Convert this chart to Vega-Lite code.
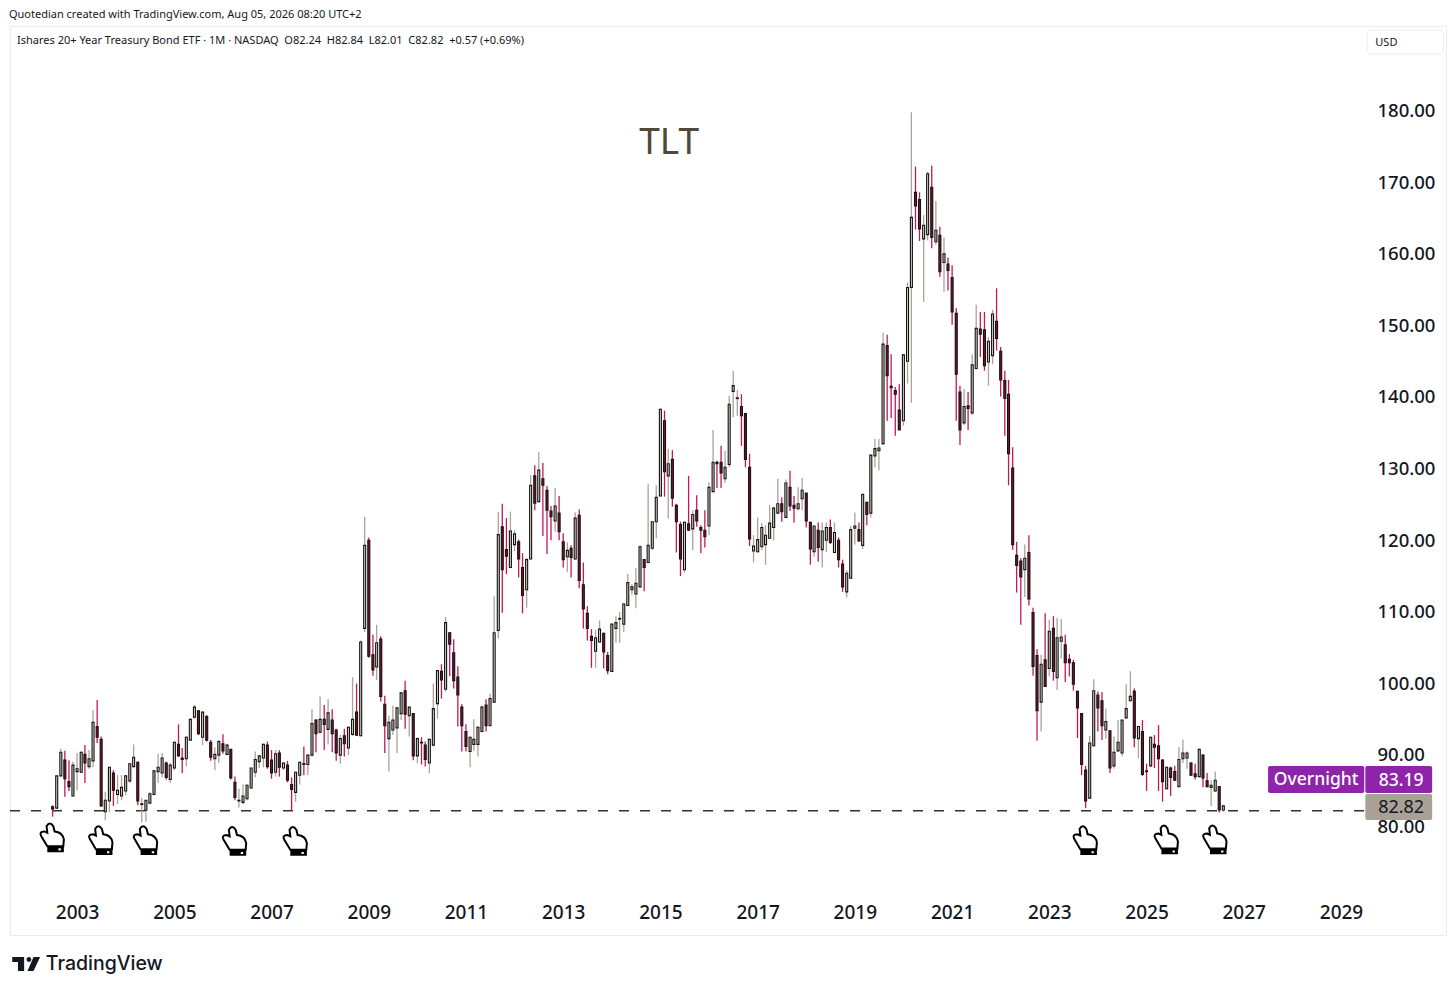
{
  "$schema": "https://vega.github.io/schema/vega-lite/v6.json",
  "background": "white",
  "autosize": {"type": "none"},
  "padding": {"left": 10, "top": 26, "right": 10, "bottom": 57},
  "width": 1436,
  "height": 909,
  "view": {"stroke": "#ececec"},
  "config": {"font": "Noto Sans"},
  "datasets": {
    "candles": [
      {"month":"2002-07-01","open":82.7,"high":82.9,"low":81.3,"close":82.4},
      {"month":"2002-08-01","open":82.5,"high":87.03,"low":82.4,"close":87.0},
      {"month":"2002-09-01","open":87.0,"high":90.8,"low":86.9,"close":90.3},
      {"month":"2002-10-01","open":89.2,"high":90.5,"low":84.1,"close":86.6},
      {"month":"2002-11-01","open":86.2,"high":89.2,"low":84.9,"close":85.5},
      {"month":"2002-12-01","open":84.2,"high":89.0,"low":84.1,"close":88.5},
      {"month":"2003-01-01","open":87.6,"high":90.2,"low":85.0,"close":88.0},
      {"month":"2003-02-01","open":87.5,"high":90.4,"low":87.4,"close":90.3},
      {"month":"2003-03-01","open":90.0,"high":91.3,"low":86.0,"close":88.8},
      {"month":"2003-04-01","open":88.3,"high":90.6,"low":88.0,"close":89.4},
      {"month":"2003-05-01","open":89.1,"high":96.2,"low":88.2,"close":94.5},
      {"month":"2003-06-01","open":93.9,"high":97.6,"low":91.6,"close":92.4},
      {"month":"2003-07-01","open":92.1,"high":92.5,"low":82.7,"close":82.8},
      {"month":"2003-08-01","open":82.0,"high":84.8,"low":80.8,"close":83.6},
      {"month":"2003-09-01","open":83.5,"high":88.2,"low":81.9,"close":88.2},
      {"month":"2003-10-01","open":87.4,"high":87.8,"low":82.8,"close":85.0},
      {"month":"2003-11-01","open":84.4,"high":87.1,"low":83.1,"close":85.0},
      {"month":"2003-12-01","open":84.2,"high":87.1,"low":83.6,"close":85.4},
      {"month":"2004-01-01","open":84.9,"high":87.1,"low":84.3,"close":87.0},
      {"month":"2004-02-01","open":86.3,"high":88.8,"low":86.0,"close":88.7},
      {"month":"2004-03-01","open":88.3,"high":91.4,"low":88.2,"close":89.6},
      {"month":"2004-04-01","open":88.9,"high":89.0,"low":82.9,"close":83.5},
      {"month":"2004-05-01","open":83.0,"high":83.9,"low":80.5,"close":83.1},
      {"month":"2004-06-01","open":82.2,"high":83.6,"low":80.6,"close":83.6},
      {"month":"2004-07-01","open":83.2,"high":84.7,"low":83.1,"close":84.5},
      {"month":"2004-08-01","open":84.4,"high":87.8,"low":84.3,"close":87.7},
      {"month":"2004-09-01","open":87.6,"high":90.1,"low":86.0,"close":88.2},
      {"month":"2004-10-01","open":87.4,"high":90.2,"low":86.8,"close":89.5},
      {"month":"2004-11-01","open":88.8,"high":89.0,"low":86.5,"close":86.8},
      {"month":"2004-12-01","open":86.5,"high":88.8,"low":86.0,"close":88.5},
      {"month":"2005-01-01","open":88.1,"high":91.8,"low":87.8,"close":91.7},
      {"month":"2005-02-01","open":91.4,"high":94.2,"low":89.7,"close":89.8},
      {"month":"2005-03-01","open":89.5,"high":90.9,"low":87.4,"close":89.3},
      {"month":"2005-04-01","open":89.4,"high":92.6,"low":88.3,"close":92.4},
      {"month":"2005-05-01","open":92.0,"high":95.0,"low":92.0,"close":94.9},
      {"month":"2005-06-01","open":95.2,"high":96.9,"low":95.0,"close":96.6},
      {"month":"2005-07-01","open":96.1,"high":96.2,"low":92.7,"close":92.9},
      {"month":"2005-08-01","open":92.4,"high":96.0,"low":91.3,"close":95.9},
      {"month":"2005-09-01","open":95.3,"high":95.5,"low":91.8,"close":92.0},
      {"month":"2005-10-01","open":91.7,"high":92.0,"low":89.1,"close":89.6},
      {"month":"2005-11-01","open":89.4,"high":91.0,"low":87.8,"close":90.0},
      {"month":"2005-12-01","open":89.9,"high":92.0,"low":88.8,"close":91.8},
      {"month":"2006-01-01","open":91.5,"high":92.8,"low":90.1,"close":90.5},
      {"month":"2006-02-01","open":90.0,"high":91.5,"low":89.9,"close":91.3},
      {"month":"2006-03-01","open":90.7,"high":90.7,"low":86.5,"close":86.7},
      {"month":"2006-04-01","open":86.1,"high":86.9,"low":83.6,"close":84.0},
      {"month":"2006-05-01","open":83.5,"high":85.2,"low":82.6,"close":83.6},
      {"month":"2006-06-01","open":83.3,"high":85.8,"low":83.0,"close":84.2},
      {"month":"2006-07-01","open":83.8,"high":85.8,"low":83.6,"close":85.7},
      {"month":"2006-08-01","open":85.3,"high":88.1,"low":85.2,"close":88.1},
      {"month":"2006-09-01","open":87.5,"high":90.4,"low":86.8,"close":89.3},
      {"month":"2006-10-01","open":89.0,"high":89.9,"low":88.1,"close":89.8},
      {"month":"2006-11-01","open":89.5,"high":91.5,"low":88.2,"close":91.4},
      {"month":"2006-12-01","open":91.3,"high":91.8,"low":88.0,"close":88.3},
      {"month":"2007-01-01","open":89.2,"high":90.6,"low":86.6,"close":87.4},
      {"month":"2007-02-01","open":87.5,"high":90.6,"low":86.9,"close":90.1},
      {"month":"2007-03-01","open":90.2,"high":90.6,"low":86.9,"close":88.2},
      {"month":"2007-04-01","open":88.1,"high":88.9,"low":87.8,"close":88.8},
      {"month":"2007-05-01","open":88.5,"high":89.1,"low":86.1,"close":86.4},
      {"month":"2007-06-01","open":85.8,"high":86.8,"low":82.1,"close":85.1},
      {"month":"2007-07-01","open":84.7,"high":87.6,"low":83.4,"close":87.5},
      {"month":"2007-08-01","open":87.1,"high":89.0,"low":85.8,"close":88.9},
      {"month":"2007-09-01","open":88.7,"high":91.1,"low":87.1,"close":88.6},
      {"month":"2007-10-01","open":88.6,"high":90.0,"low":87.1,"close":89.9},
      {"month":"2007-11-01","open":89.9,"high":96.3,"low":89.7,"close":94.3},
      {"month":"2007-12-01","open":94.8,"high":94.9,"low":90.3,"close":92.9},
      {"month":"2008-01-01","open":93.1,"high":98.1,"low":92.9,"close":94.9},
      {"month":"2008-02-01","open":94.9,"high":96.9,"low":90.6,"close":94.2},
      {"month":"2008-03-01","open":93.5,"high":97.7,"low":91.4,"close":95.8},
      {"month":"2008-04-01","open":94.8,"high":96.3,"low":90.3,"close":92.9},
      {"month":"2008-05-01","open":93.4,"high":93.6,"low":89.1,"close":90.2},
      {"month":"2008-06-01","open":89.9,"high":92.7,"low":88.7,"close":92.2},
      {"month":"2008-07-01","open":92.6,"high":93.6,"low":89.7,"close":91.5},
      {"month":"2008-08-01","open":90.9,"high":93.9,"low":89.9,"close":93.8},
      {"month":"2008-09-01","open":92.8,"high":100.8,"low":92.6,"close":94.9},
      {"month":"2008-10-01","open":95.9,"high":99.9,"low":92.6,"close":92.7},
      {"month":"2008-11-01","open":92.6,"high":105.9,"low":92.5,"close":105.7},
      {"month":"2008-12-01","open":107.6,"high":123.2,"low":107.1,"close":119.2},
      {"month":"2009-01-01","open":119.9,"high":120.3,"low":103.5,"close":103.7},
      {"month":"2009-02-01","open":103.9,"high":106.7,"low":101.0,"close":101.8},
      {"month":"2009-03-01","open":102.2,"high":108.1,"low":100.4,"close":105.6},
      {"month":"2009-04-01","open":106.1,"high":106.5,"low":97.4,"close":98.1},
      {"month":"2009-05-01","open":97.0,"high":98.2,"low":90.2,"close":94.0},
      {"month":"2009-06-01","open":92.2,"high":95.4,"low":87.6,"close":94.5},
      {"month":"2009-07-01","open":93.4,"high":96.8,"low":92.7,"close":94.8},
      {"month":"2009-08-01","open":93.7,"high":96.6,"low":90.2,"close":96.5},
      {"month":"2009-09-01","open":95.7,"high":98.7,"low":94.8,"close":98.6},
      {"month":"2009-10-01","open":98.9,"high":100.3,"low":93.6,"close":95.6},
      {"month":"2009-11-01","open":95.4,"high":96.7,"low":92.5,"close":96.6},
      {"month":"2009-12-01","open":95.7,"high":95.8,"low":89.2,"close":89.8},
      {"month":"2010-01-01","open":89.8,"high":92.4,"low":88.8,"close":92.2},
      {"month":"2010-02-01","open":91.7,"high":92.4,"low":88.6,"close":91.6},
      {"month":"2010-03-01","open":91.3,"high":91.8,"low":88.3,"close":89.3},
      {"month":"2010-04-01","open":88.8,"high":92.2,"low":87.4,"close":92.1},
      {"month":"2010-05-01","open":91.3,"high":99.9,"low":91.1,"close":96.4},
      {"month":"2010-06-01","open":97.1,"high":101.8,"low":95.0,"close":101.7},
      {"month":"2010-07-01","open":101.6,"high":102.6,"low":97.8,"close":100.4},
      {"month":"2010-08-01","open":99.1,"high":109.2,"low":98.8,"close":108.4},
      {"month":"2010-09-01","open":107.0,"high":107.1,"low":100.9,"close":105.4},
      {"month":"2010-10-01","open":104.2,"high":106.1,"low":99.2,"close":100.3},
      {"month":"2010-11-01","open":100.8,"high":102.3,"low":93.9,"close":98.3},
      {"month":"2010-12-01","open":96.6,"high":97.0,"low":90.4,"close":94.0},
      {"month":"2011-01-01","open":93.2,"high":94.2,"low":90.4,"close":91.1},
      {"month":"2011-02-01","open":90.4,"high":92.5,"low":88.2,"close":92.4},
      {"month":"2011-03-01","open":91.4,"high":94.9,"low":90.5,"close":92.1},
      {"month":"2011-04-01","open":91.4,"high":93.9,"low":89.7,"close":93.8},
      {"month":"2011-05-01","open":93.2,"high":96.8,"low":93.1,"close":96.6},
      {"month":"2011-06-01","open":96.9,"high":97.7,"low":93.2,"close":94.0},
      {"month":"2011-07-01","open":94.0,"high":98.5,"low":94.0,"close":97.8},
      {"month":"2011-08-01","open":97.3,"high":112.1,"low":97.2,"close":107.0},
      {"month":"2011-09-01","open":107.3,"high":123.9,"low":106.2,"close":120.7},
      {"month":"2011-10-01","open":121.8,"high":125.0,"low":109.8,"close":115.8},
      {"month":"2011-11-01","open":118.6,"high":123.0,"low":115.2,"close":117.7},
      {"month":"2011-12-01","open":116.1,"high":123.9,"low":116.0,"close":121.2},
      {"month":"2012-01-01","open":119.3,"high":121.3,"low":118.4,"close":120.8},
      {"month":"2012-02-01","open":119.7,"high":120.0,"low":114.7,"close":117.3},
      {"month":"2012-03-01","open":116.1,"high":118.1,"low":109.7,"close":112.2},
      {"month":"2012-04-01","open":113.0,"high":117.4,"low":110.5,"close":117.2},
      {"month":"2012-05-01","open":117.3,"high":129.0,"low":117.2,"close":127.6},
      {"month":"2012-06-01","open":128.9,"high":130.4,"low":124.1,"close":125.1},
      {"month":"2012-07-01","open":125.3,"high":132.2,"low":125.2,"close":129.7},
      {"month":"2012-08-01","open":128.5,"high":130.7,"low":120.5,"close":127.6},
      {"month":"2012-09-01","open":126.9,"high":127.5,"low":118.0,"close":124.1},
      {"month":"2012-10-01","open":124.0,"high":124.7,"low":119.9,"close":123.2},
      {"month":"2012-11-01","open":122.6,"high":127.2,"low":121.1,"close":124.7},
      {"month":"2012-12-01","open":123.7,"high":126.1,"low":119.9,"close":121.1},
      {"month":"2013-01-01","open":119.7,"high":120.9,"low":116.1,"close":117.2},
      {"month":"2013-02-01","open":117.6,"high":119.6,"low":115.5,"close":118.5},
      {"month":"2013-03-01","open":118.8,"high":119.2,"low":114.7,"close":117.5},
      {"month":"2013-04-01","open":117.3,"high":123.8,"low":117.2,"close":123.0},
      {"month":"2013-05-01","open":123.4,"high":124.2,"low":113.2,"close":114.3},
      {"month":"2013-06-01","open":113.7,"high":116.8,"low":107.6,"close":110.3},
      {"month":"2013-07-01","open":109.7,"high":110.7,"low":105.9,"close":107.6},
      {"month":"2013-08-01","open":106.5,"high":107.5,"low":102.1,"close":105.9},
      {"month":"2013-09-01","open":104.4,"high":107.4,"low":102.1,"close":106.3},
      {"month":"2013-10-01","open":105.7,"high":108.7,"low":105.6,"close":107.5},
      {"month":"2013-11-01","open":106.9,"high":107.0,"low":102.0,"close":104.3},
      {"month":"2013-12-01","open":103.8,"high":104.3,"low":101.2,"close":101.7},
      {"month":"2014-01-01","open":101.6,"high":108.3,"low":101.5,"close":108.2},
      {"month":"2014-02-01","open":107.6,"high":109.3,"low":105.6,"close":108.4},
      {"month":"2014-03-01","open":108.9,"high":109.9,"low":105.6,"close":109.0},
      {"month":"2014-04-01","open":108.2,"high":111.1,"low":107.1,"close":111.0},
      {"month":"2014-05-01","open":110.8,"high":115.2,"low":110.7,"close":114.0},
      {"month":"2014-06-01","open":113.0,"high":113.8,"low":112.3,"close":113.4},
      {"month":"2014-07-01","open":112.4,"high":116.0,"low":110.4,"close":113.9},
      {"month":"2014-08-01","open":113.4,"high":119.2,"low":113.3,"close":119.0},
      {"month":"2014-09-01","open":117.2,"high":117.3,"low":112.8,"close":116.1},
      {"month":"2014-10-01","open":116.8,"high":127.8,"low":116.7,"close":119.2},
      {"month":"2014-11-01","open":118.8,"high":122.5,"low":118.5,"close":122.5},
      {"month":"2014-12-01","open":122.5,"high":127.6,"low":120.2,"close":125.9},
      {"month":"2015-01-01","open":126.1,"high":138.3,"low":126.1,"close":138.2},
      {"month":"2015-02-01","open":136.6,"high":138.0,"low":126.0,"close":129.5},
      {"month":"2015-03-01","open":128.9,"high":132.7,"low":122.9,"close":130.6},
      {"month":"2015-04-01","open":131.2,"high":132.5,"low":124.6,"close":125.8},
      {"month":"2015-05-01","open":124.8,"high":125.0,"low":118.2,"close":122.5},
      {"month":"2015-06-01","open":122.1,"high":122.5,"low":114.9,"close":117.3},
      {"month":"2015-07-01","open":115.8,"high":122.5,"low":115.4,"close":122.4},
      {"month":"2015-08-01","open":122.2,"high":128.9,"low":121.2,"close":121.3},
      {"month":"2015-09-01","open":121.5,"high":124.1,"low":118.5,"close":123.5},
      {"month":"2015-10-01","open":124.1,"high":126.2,"low":121.8,"close":122.6},
      {"month":"2015-11-01","open":121.7,"high":122.0,"low":118.1,"close":121.3},
      {"month":"2015-12-01","open":121.3,"high":124.1,"low":118.9,"close":120.4},
      {"month":"2016-01-01","open":121.9,"high":128.0,"low":120.6,"close":127.3},
      {"month":"2016-02-01","open":126.7,"high":135.3,"low":126.6,"close":130.8},
      {"month":"2016-03-01","open":130.8,"high":131.0,"low":127.2,"close":130.6},
      {"month":"2016-04-01","open":130.8,"high":133.1,"low":127.2,"close":129.3},
      {"month":"2016-05-01","open":128.5,"high":132.4,"low":127.9,"close":130.1},
      {"month":"2016-06-01","open":130.5,"high":140.1,"low":130.1,"close":138.9},
      {"month":"2016-07-01","open":140.7,"high":143.6,"low":137.1,"close":141.5},
      {"month":"2016-08-01","open":139.7,"high":140.9,"low":137.3,"close":139.8},
      {"month":"2016-09-01","open":138.6,"high":140.3,"low":133.1,"close":137.3},
      {"month":"2016-10-01","open":137.6,"high":137.7,"low":130.1,"close":131.2},
      {"month":"2016-11-01","open":130.1,"high":132.0,"low":119.1,"close":120.1},
      {"month":"2016-12-01","open":118.4,"high":120.6,"low":116.8,"close":119.1},
      {"month":"2017-01-01","open":118.3,"high":123.1,"low":118.2,"close":120.0},
      {"month":"2017-02-01","open":119.0,"high":122.3,"low":118.5,"close":121.7},
      {"month":"2017-03-01","open":119.3,"high":122.0,"low":116.5,"close":120.6},
      {"month":"2017-04-01","open":120.2,"high":124.8,"low":120.2,"close":122.3},
      {"month":"2017-05-01","open":121.7,"high":124.6,"low":119.9,"close":124.4},
      {"month":"2017-06-01","open":123.7,"high":128.5,"low":123.6,"close":125.0},
      {"month":"2017-07-01","open":125.0,"high":125.9,"low":122.5,"close":123.9},
      {"month":"2017-08-01","open":123.1,"high":128.4,"low":123.0,"close":127.9},
      {"month":"2017-09-01","open":127.3,"high":129.6,"low":124.0,"close":124.7},
      {"month":"2017-10-01","open":124.8,"high":126.1,"low":122.4,"close":124.4},
      {"month":"2017-11-01","open":124.3,"high":127.3,"low":124.1,"close":125.0},
      {"month":"2017-12-01","open":125.7,"high":128.6,"low":124.1,"close":126.9},
      {"month":"2018-01-01","open":126.5,"high":126.5,"low":121.7,"close":122.6},
      {"month":"2018-02-01","open":122.4,"high":122.5,"low":116.5,"close":118.7},
      {"month":"2018-03-01","open":118.3,"high":121.9,"low":117.6,"close":121.9},
      {"month":"2018-04-01","open":121.3,"high":122.4,"low":116.9,"close":118.9},
      {"month":"2018-05-01","open":118.6,"high":122.4,"low":116.1,"close":121.2},
      {"month":"2018-06-01","open":119.9,"high":122.4,"low":118.3,"close":121.7},
      {"month":"2018-07-01","open":121.7,"high":122.8,"low":119.4,"close":119.6},
      {"month":"2018-08-01","open":118.2,"high":122.4,"low":118.1,"close":121.0},
      {"month":"2018-09-01","open":119.9,"high":120.3,"low":116.1,"close":117.2},
      {"month":"2018-10-01","open":116.6,"high":117.2,"low":112.7,"close":113.4},
      {"month":"2018-11-01","open":112.7,"high":115.7,"low":111.9,"close":115.3},
      {"month":"2018-12-01","open":114.6,"high":121.9,"low":114.5,"close":121.4},
      {"month":"2019-01-01","open":121.6,"high":123.8,"low":119.3,"close":121.9},
      {"month":"2019-02-01","open":121.4,"high":122.4,"low":119.7,"close":119.8},
      {"month":"2019-03-01","open":119.2,"high":126.5,"low":118.7,"close":126.3},
      {"month":"2019-04-01","open":125.2,"high":125.3,"low":122.0,"close":123.5},
      {"month":"2019-05-01","open":123.7,"high":131.8,"low":123.1,"close":131.8},
      {"month":"2019-06-01","open":131.7,"high":134.1,"low":130.1,"close":132.7},
      {"month":"2019-07-01","open":132.4,"high":134.1,"low":129.7,"close":132.8},
      {"month":"2019-08-01","open":133.4,"high":148.9,"low":133.2,"close":147.3},
      {"month":"2019-09-01","open":147.1,"high":148.6,"low":136.6,"close":142.9},
      {"month":"2019-10-01","open":141.4,"high":145.9,"low":137.0,"close":141.2},
      {"month":"2019-11-01","open":140.8,"high":141.3,"low":134.5,"close":140.3},
      {"month":"2019-12-01","open":138.1,"high":141.7,"low":135.3,"close":135.3},
      {"month":"2020-01-01","open":136.6,"high":145.9,"low":135.9,"close":145.8},
      {"month":"2020-02-01","open":144.9,"high":155.9,"low":141.8,"close":155.2},
      {"month":"2020-03-01","open":155.2,"high":179.7,"low":139.1,"close":165.0},
      {"month":"2020-04-01","open":168.5,"high":172.1,"low":163.3,"close":166.6},
      {"month":"2020-05-01","open":167.5,"high":168.5,"low":161.7,"close":163.4},
      {"month":"2020-06-01","open":162.0,"high":165.3,"low":153.2,"close":163.9},
      {"month":"2020-07-01","open":162.6,"high":171.4,"low":161.8,"close":171.1},
      {"month":"2020-08-01","open":169.2,"high":172.2,"low":160.7,"close":162.2},
      {"month":"2020-09-01","open":161.6,"high":167.3,"low":161.2,"close":163.2},
      {"month":"2020-10-01","open":162.5,"high":163.7,"low":156.7,"close":157.4},
      {"month":"2020-11-01","open":158.7,"high":162.2,"low":154.6,"close":159.9},
      {"month":"2020-12-01","open":158.5,"high":159.4,"low":154.8,"close":157.6},
      {"month":"2021-01-01","open":156.6,"high":158.3,"low":150.0,"close":151.8},
      {"month":"2021-02-01","open":151.6,"high":152.3,"low":136.6,"close":143.1},
      {"month":"2021-03-01","open":140.6,"high":141.5,"low":133.2,"close":135.3},
      {"month":"2021-04-01","open":136.3,"high":141.0,"low":136.0,"close":138.6},
      {"month":"2021-05-01","open":138.7,"high":140.6,"low":135.3,"close":138.3},
      {"month":"2021-06-01","open":137.7,"high":145.9,"low":137.4,"close":144.4},
      {"month":"2021-07-01","open":143.9,"high":152.8,"low":143.8,"close":149.5},
      {"month":"2021-08-01","open":149.4,"high":151.8,"low":145.5,"close":148.7},
      {"month":"2021-09-01","open":149.3,"high":151.8,"low":143.6,"close":144.3},
      {"month":"2021-10-01","open":144.8,"high":148.3,"low":141.5,"close":147.7},
      {"month":"2021-11-01","open":145.7,"high":152.1,"low":144.5,"close":151.5},
      {"month":"2021-12-01","open":150.5,"high":155.1,"low":146.4,"close":148.1},
      {"month":"2022-01-01","open":146.3,"high":146.9,"low":140.0,"close":142.3},
      {"month":"2022-02-01","open":142.2,"high":143.6,"low":134.5,"close":139.7},
      {"month":"2022-03-01","open":140.3,"high":142.3,"low":127.6,"close":132.0},
      {"month":"2022-04-01","open":130.0,"high":132.9,"low":118.6,"close":119.3},
      {"month":"2022-05-01","open":117.8,"high":119.7,"low":112.6,"close":116.4},
      {"month":"2022-06-01","open":117.0,"high":117.4,"low":108.1,"close":114.8},
      {"month":"2022-07-01","open":115.8,"high":119.3,"low":112.0,"close":117.4},
      {"month":"2022-08-01","open":118.2,"high":120.6,"low":110.8,"close":111.7},
      {"month":"2022-09-01","open":109.8,"high":110.5,"low":101.0,"close":102.3},
      {"month":"2022-10-01","open":103.8,"high":104.7,"low":91.9,"close":96.1},
      {"month":"2022-11-01","open":97.3,"high":103.9,"low":93.2,"close":102.6},
      {"month":"2022-12-01","open":103.2,"high":109.7,"low":99.4,"close":99.5},
      {"month":"2023-01-01","open":102.0,"high":108.8,"low":100.9,"close":107.2},
      {"month":"2023-02-01","open":107.6,"high":109.3,"low":100.3,"close":101.6},
      {"month":"2023-03-01","open":100.7,"high":109.1,"low":99.0,"close":106.3},
      {"month":"2023-04-01","open":105.8,"high":108.9,"low":103.4,"close":106.4},
      {"month":"2023-05-01","open":105.3,"high":106.7,"low":100.1,"close":102.8},
      {"month":"2023-06-01","open":103.3,"high":104.0,"low":100.9,"close":102.8},
      {"month":"2023-07-01","open":102.8,"high":103.2,"low":98.9,"close":99.8},
      {"month":"2023-08-01","open":98.8,"high":98.9,"low":92.3,"close":96.5},
      {"month":"2023-09-01","open":95.7,"high":95.8,"low":87.1,"close":88.6},
      {"month":"2023-10-01","open":87.8,"high":88.4,"low":82.5,"close":83.5},
      {"month":"2023-11-01","open":83.9,"high":92.6,"low":83.8,"close":91.6},
      {"month":"2023-12-01","open":91.2,"high":100.5,"low":91.1,"close":98.9},
      {"month":"2024-01-01","open":98.3,"high":98.8,"low":93.2,"close":96.5},
      {"month":"2024-02-01","open":97.5,"high":98.7,"low":92.0,"close":94.0},
      {"month":"2024-03-01","open":93.4,"high":96.4,"low":92.2,"close":94.6},
      {"month":"2024-04-01","open":93.3,"high":93.4,"low":87.4,"close":88.1},
      {"month":"2024-05-01","open":88.4,"high":92.5,"low":88.0,"close":90.3},
      {"month":"2024-06-01","open":90.5,"high":94.8,"low":90.4,"close":91.7},
      {"month":"2024-07-01","open":90.2,"high":94.8,"low":89.7,"close":94.8},
      {"month":"2024-08-01","open":95.1,"high":99.8,"low":95.0,"close":96.4},
      {"month":"2024-09-01","open":97.5,"high":101.6,"low":97.4,"close":98.1},
      {"month":"2024-10-01","open":98.8,"high":99.2,"low":91.0,"close":92.3},
      {"month":"2024-11-01","open":92.2,"high":94.0,"low":89.5,"close":93.9},
      {"month":"2024-12-01","open":93.2,"high":94.8,"low":87.0,"close":87.2},
      {"month":"2025-01-01","open":87.7,"high":88.7,"low":84.9,"close":87.6},
      {"month":"2025-02-01","open":88.4,"high":92.5,"low":88.2,"close":92.4},
      {"month":"2025-03-01","open":91.4,"high":92.7,"low":88.1,"close":91.0},
      {"month":"2025-04-01","open":91.2,"high":94.1,"low":84.9,"close":89.4},
      {"month":"2025-05-01","open":89.2,"high":89.3,"low":83.4,"close":86.2},
      {"month":"2025-06-01","open":85.2,"high":88.3,"low":85.1,"close":88.2},
      {"month":"2025-07-01","open":88.1,"high":88.3,"low":84.2,"close":86.8},
      {"month":"2025-08-01","open":87.6,"high":88.4,"low":86.3,"close":86.4},
      {"month":"2025-09-01","open":85.5,"high":91.0,"low":85.5,"close":89.3},
      {"month":"2025-10-01","open":89.4,"high":92.1,"low":88.8,"close":90.2},
      {"month":"2025-11-01","open":89.5,"high":90.4,"low":88.0,"close":90.2},
      {"month":"2025-12-01","open":88.8,"high":88.9,"low":87.0,"close":87.1},
      {"month":"2026-01-01","open":87.3,"high":88.7,"low":86.5,"close":86.9},
      {"month":"2026-02-01","open":86.9,"high":90.8,"low":86.8,"close":90.7},
      {"month":"2026-03-01","open":89.9,"high":90.0,"low":85.4,"close":86.7},
      {"month":"2026-04-01","open":86.3,"high":87.4,"low":85.4,"close":85.5},
      {"month":"2026-05-01","open":85.4,"high":86.4,"low":82.8,"close":85.7},
      {"month":"2026-06-01","open":84.9,"high":87.6,"low":84.8,"close":86.4},
      {"month":"2026-07-01","open":85.5,"high":85.6,"low":81.9,"close":82.25},
      {"month":"2026-08-01","open":82.24,"high":82.84,"low":82.01,"close":82.82}
    ],
    "hands": [
      {"month":"2002-07-01","price":78.4},
      {"month":"2003-07-01","price":78.0},
      {"month":"2004-06-01","price":78.0},
      {"month":"2006-04-01","price":77.9},
      {"month":"2007-07-01","price":77.9},
      {"month":"2023-10-01","price":78.0},
      {"month":"2025-06-01","price":78.1},
      {"month":"2026-06-01","price":78.1}
    ]
  },
  "encoding": {
    "x": {
      "field": "month",
      "type": "temporal",
      "title": null,
      "scale": {
        "type": "utc",
        "domain": [{"year": 2001, "month": 8, "date": 15, "utc": true}, {"year": 2031, "month": 3, "date": 1, "utc": true}],
        "nice": false,
        "padding": 0
      },
      "axis": {
        "orient": "bottom",
        "values": [
          {"year": 2003, "utc": true}, {"year": 2005, "utc": true}, {"year": 2007, "utc": true}, {"year": 2009, "utc": true},
          {"year": 2011, "utc": true}, {"year": 2013, "utc": true}, {"year": 2015, "utc": true}, {"year": 2017, "utc": true},
          {"year": 2019, "utc": true}, {"year": 2021, "utc": true}, {"year": 2023, "utc": true}, {"year": 2025, "utc": true},
          {"year": 2027, "utc": true}, {"year": 2029, "utc": true}
        ],
        "format": "%Y",
        "grid": false,
        "ticks": false,
        "domain": false,
        "labelFont": "Noto Sans",
        "labelFontSize": 19,
        "labelFontWeight": 500,
        "labelColor": "#131722",
        "labelBaseline": "middle",
        "labelPadding": -23,
        "labelBound": false,
        "labelFlush": false,
        "labelOverlap": false
      }
    },
    "y": {
      "field": "price",
      "type": "quantitative",
      "title": null,
      "scale": {"domain": [64.78, 191.73], "nice": false, "zero": false},
      "axis": {
        "orient": "right",
        "values": [80, 90, 100, 110, 120, 130, 140, 150, 160, 170, 180],
        "format": ".2f",
        "grid": false,
        "ticks": false,
        "domain": false,
        "labelFont": "Noto Sans",
        "labelFontSize": 18.5,
        "labelFontWeight": 500,
        "labelColor": "#131722",
        "labelAlign": "left",
        "labelBaseline": "middle",
        "labelPadding": -69,
        "labelOffset": 0.5,
        "labelBound": false,
        "labelFlush": false,
        "labelOverlap": false
      }
    }
  },
  "layer": [
    {
      "data": {"values": [{"month": "2001-08-15", "month2": "2029-06-25", "price": 82.14}]},
      "mark": {"type": "rule", "color": "#3b3020", "strokeWidth": 1.5, "strokeDash": [10, 11]},
      "encoding": {"x2": {"field": "month2"}}
    },
    {
      "data": {"name": "candles"},
      "mark": {"type": "rule", "strokeWidth": 1.3},
      "encoding": {
        "y": {"field": "low", "type": "quantitative"},
        "y2": {"field": "high"},
        "color": {"condition": {"test": "datum.close >= datum.open", "value": "#aaa398"}, "value": "#c2185b"}
      }
    },
    {
      "data": {"name": "candles"},
      "mark": {"type": "bar", "size": 2, "stroke": "#16130f", "strokeWidth": 1.1},
      "encoding": {
        "y": {"field": "open", "type": "quantitative"},
        "y2": {"field": "close"},
        "fill": {"condition": {"test": "datum.close >= datum.open", "value": "#dcd9d3"}, "value": "#7b1130"}
      }
    },
    {
      "data": {"name": "hands"},
      "mark": {"type": "point", "filled": true, "fill": "white", "stroke": "black", "strokeWidth": 2, "opacity": 1, "size": 860,
        "shape": "M -0.36 0.6 L -0.77 -0.09 Q -0.95 -0.41 -0.55 -0.41 L -0.36 -0.32 L -0.41 -0.77 Q -0.2 -1.15 0.05 -0.77 L 0.14 -0.41 Q 0.68 -0.36 0.77 0.14 L 0.73 0.6 Z"}
    },
    {
      "data": {"name": "hands"},
      "mark": {"type": "point", "filled": true, "fill": "black", "strokeWidth": 0, "opacity": 1, "size": 860,
        "shape": "M -0.36 0.6 L 0.77 0.6 L 0.77 1 L -0.36 1 Z M 0.4 0.74 L 0.4 0.88 L 0.56 0.88 L 0.56 0.74 Z"}
    },
    {
      "data": {"values": [{"month": "2027-07-03", "month2": "2029-06-25", "price": 88.38, "price2": 84.61}, {"month": "2029-07-03", "month2": "2030-11-17", "price": 88.38, "price2": 84.61}]},
      "mark": {"type": "rect", "fill": "#8e24aa", "cornerRadius": 2},
      "encoding": {"x2": {"field": "month2"}, "y2": {"field": "price2"}}
    },
    {
      "data": {"values": [{"month": "2029-07-03", "month2": "2030-11-17", "price": 84.47, "price2": 80.84}]},
      "mark": {"type": "rect", "fill": "#a9a196", "cornerRadius": 2},
      "encoding": {"x2": {"field": "month2"}, "y2": {"field": "price2"}}
    },
    {
      "data": {"values": [{"month": "2029-07-16", "month2": "2031-02-09", "price": 191.17, "price2": 187.82}]},
      "mark": {"type": "rect", "fill": "white", "stroke": "#ececec", "cornerRadius": 4},
      "encoding": {"x2": {"field": "month2"}, "y2": {"field": "price2"}}
    },
    {
      "data": {"values": [{"month": "2028-06-28", "price": 86.4, "label": "Overnight"}, {"month": "2030-03-29", "price": 86.3, "label": "83.19"}]},
      "mark": {"type": "text", "color": "white", "font": "Noto Sans", "fontSize": 17.5, "fontWeight": 500, "align": "center", "baseline": "middle"},
      "encoding": {"text": {"field": "label"}}
    },
    {
      "data": {"values": [{"month": "2030-03-29", "price": 82.5, "label": "82.82"}]},
      "mark": {"type": "text", "color": "#131722", "font": "Noto Sans", "fontSize": 18, "align": "center", "baseline": "middle"},
      "encoding": {"text": {"field": "label"}}
    },
    {
      "data": {"values": [{"month": "2029-12-08", "price": 189.4, "label": "USD"}]},
      "mark": {"type": "text", "color": "#131722", "font": "Noto Sans", "fontSize": 11, "align": "center", "baseline": "middle"},
      "encoding": {"text": {"field": "label"}}
    },
    {
      "data": {"values": [{"month": "2015-03-08", "price": 175.4, "label": "TLT"}]},
      "mark": {"type": "text", "color": "#50483a", "font": "Noto Sans", "fontSize": 37, "align": "center", "baseline": "middle"},
      "encoding": {"text": {"field": "label"}}
    },
    {
      "data": {"values": [
        {"month": "2001-08-07", "price": 193.33, "label": "Quotedian created with TradingView.com, Aug 05, 2026 08:20 UTC+2"},
        {"month": "2001-10-07", "price": 189.7, "label": "Ishares 20+ Year Treasury Bond ETF · 1M · NASDAQ\u00a0\u00a0O82.24\u00a0\u00a0H82.84\u00a0\u00a0L82.01\u00a0\u00a0C82.82\u00a0\u00a0+0.57 (+0.69%)"}
      ]},
      "mark": {"type": "text", "color": "#131722", "font": "Noto Sans", "fontSize": 11, "align": "left", "baseline": "middle"},
      "encoding": {"text": {"field": "label"}}
    },
    {
      "data": {"values": [{"month": "2002-05-11", "price": 60.73, "label": "TradingView"}]},
      "mark": {"type": "text", "color": "#131722", "font": "Inter", "fontSize": 19.5, "fontWeight": 500, "align": "left", "baseline": "middle"},
      "encoding": {"text": {"field": "label"}}
    },
    {
      "data": {"values": [{"month": "2001-12-14", "price": 60.73}]},
      "mark": {"type": "point", "filled": true, "fill": "#131722", "strokeWidth": 0, "opacity": 1, "size": 784,
        "shape": "M -0.99 -0.5 L -0.14 -0.5 L -0.14 0.5 L -0.58 0.5 L -0.58 -0.14 L -0.99 -0.14 Z M 0.03 -0.33 A 0.17 0.17 0 1 1 0.37 -0.33 A 0.17 0.17 0 1 1 0.03 -0.33 Z M 0.53 -0.5 L 1 -0.5 L 0.53 0.5 L 0.1 0.5 Z"}
    }
  ]
}
